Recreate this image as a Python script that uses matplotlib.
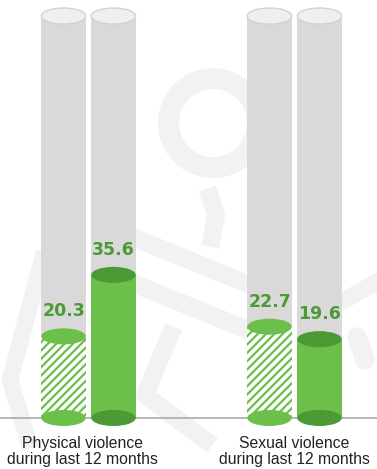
import matplotlib.pyplot as plt
from matplotlib.patches import Rectangle, Ellipse

# data
categories = ["Physical violence\nduring last 12 months", "Sexual violence\nduring last 12 months"]
hatched_vals = [20.3, 22.7]
solid_vals = [35.6, 19.6]
full_val = 100

# colours
grey_body = "#d9d9d9"
grey_top = "#efefef"
green = "#6cbf4a"
green_dark = "#4b9a35"
mark_grey = "#f2f2f2"

plt.rcParams['hatch.linewidth'] = 1.6

fig = plt.figure(figsize=(3.77, 4.69), dpi=100)
ax = fig.add_axes([0, 0, 1, 1])
ax.set_xlim(0, 377)
ax.set_ylim(-12.7, 104)
ax.axis('off')

# pixel helper for the watermark only (px from top -> value units)
def py(p):
    return (418 - p) / 4.02

# --- faint watermark behind everything ---
ax.add_patch(Ellipse((213, py(123)), 110, 110 / 4.02, facecolor=mark_grey, edgecolor='none', zorder=0))
ax.add_patch(Ellipse((213, py(123)), 68, 68 / 4.02, facecolor='white', edgecolor='none', zorder=0))
ax.plot([120, 260], [py(232), py(289)], color=mark_grey, lw=13, solid_capstyle='butt', zorder=0)
ax.plot([120, 260], [py(278), py(335)], color=mark_grey, lw=13, solid_capstyle='butt', zorder=0)
ax.plot([210, 216, 212], [py(197), py(215), py(238)], color=mark_grey, lw=13, zorder=0)
ax.plot([42, 10, 28], [py(260), py(380), py(440)], color=mark_grey, lw=12, zorder=0)
ax.plot([170, 145, 205], [py(335), py(395), py(440)], color=mark_grey, lw=13, zorder=0)
ax.plot([345, 380], [py(300), py(280)], color=mark_grey, lw=12, zorder=0)
ax.plot([357, 365], [py(337), py(360)], color=mark_grey, lw=14, solid_capstyle='round', zorder=0)

# baseline
ax.axhline(0, color="#aaaaaa", lw=1.2, zorder=1)

group_x = [88.5, 294.5]
offset = 25
bw = 44.5
eh = 4.0  # ellipse height in value units

for i, cat in enumerate(categories):
    for j, (val, hatched) in enumerate([(hatched_vals[i], True), (solid_vals[i], False)]):
        xc = group_x[i] + (j * 2 - 1) * offset
        # grey background cylinder
        ax.add_patch(Rectangle((xc - bw / 2, 0), bw, full_val, facecolor=grey_body,
                               edgecolor='none', zorder=2))
        ax.add_patch(Ellipse((xc, full_val), bw, eh, facecolor=grey_top,
                             edgecolor="#d2d2d2", lw=1, zorder=3))
        if hatched:
            ax.add_patch(Rectangle((xc - bw / 2, 0), bw, val, facecolor='white',
                                   edgecolor=green, hatch='////', lw=0, zorder=4))
            ax.add_patch(Ellipse((xc, 0), bw, eh, facecolor=green, edgecolor='none', zorder=5))
            ax.add_patch(Ellipse((xc, val), bw, eh, facecolor=green, edgecolor='none', zorder=5))
        else:
            ax.add_patch(Rectangle((xc - bw / 2, 0), bw, val, facecolor=green,
                                   edgecolor='none', zorder=4))
            ax.add_patch(Ellipse((xc, 0), bw, eh, facecolor=green_dark, edgecolor='none', zorder=5))
            ax.add_patch(Ellipse((xc, val), bw, eh, facecolor=green_dark, edgecolor='none', zorder=5))
        ax.text(xc, val + 6.2, f"{val:.1f}", ha='center', va='center', fontsize=12.5,
                fontweight='bold', color=green_dark, family=['DejaVu Sans'], zorder=6)

label_x = [82.5, 294.5]
for i, cat in enumerate(categories):
    ax.text(label_x[i], -8.3, cat, ha='center', va='center', fontsize=11.3,
            linespacing=1.1, color='#222222',
            family=['Liberation Sans', 'DejaVu Sans'])

plt.savefig("out.png", dpi=100)
